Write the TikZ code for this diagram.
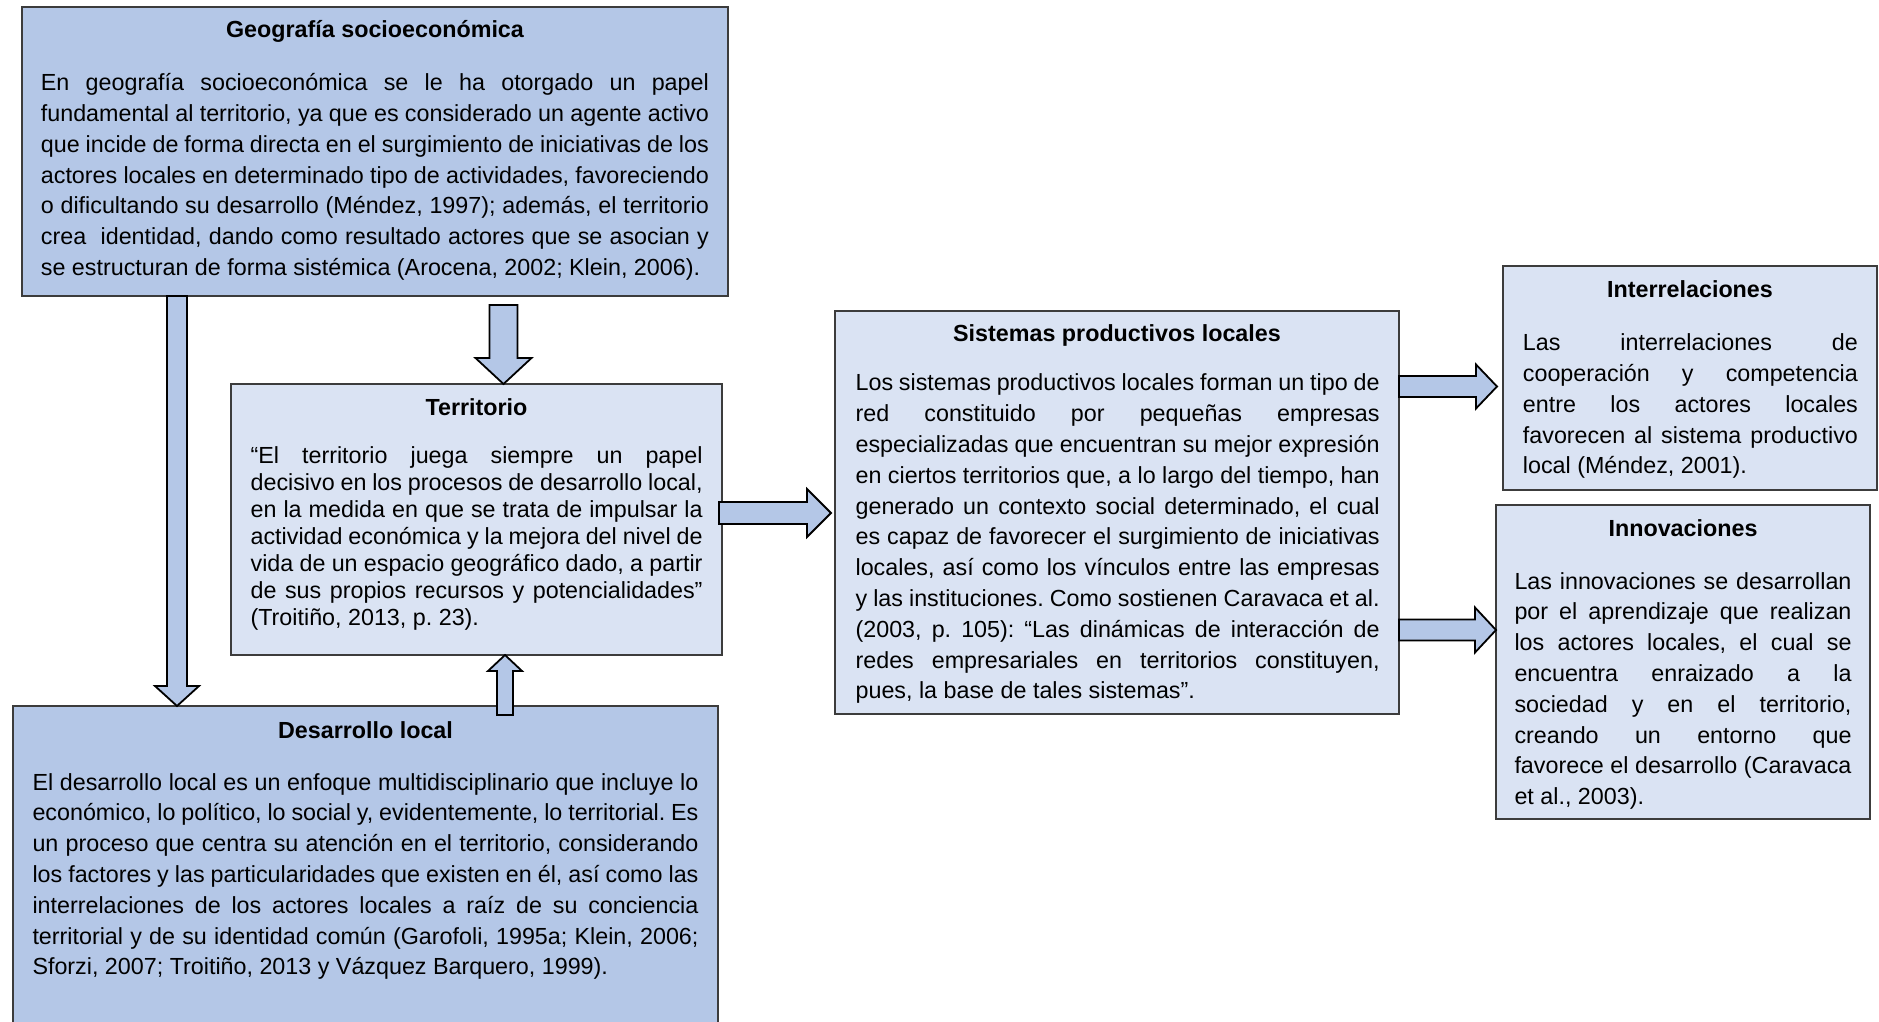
\documentclass[tikz,border=0pt]{standalone}
\usepackage{fontspec}
\setmainfont{Liberation Sans}
\usetikzlibrary{calc}
\definecolor{darkfill}{RGB}{180,199,231}
\definecolor{lightfill}{RGB}{218,227,243}
\definecolor{bordc}{RGB}{60,60,60}
\frenchspacing
\newcommand\fixsp{\frenchspacing\spaceskip=0pt\relax\xspaceskip=0pt\relax\parindent=0pt\relax}
\newcommand\jl[1]{\makebox[\hsize][s]{\fixsp #1}\\}
\newcommand\blkarrow[5]{%
  \path (#1) coordinate (bs) (#2) coordinate (be);
  \path ($(be)!#5!(bs)$) coordinate (bh);
  \draw[blk] ($(bs)!#3!90:(be)$) -- ($(bh)!#3!-90:(bs)$) -- ($(bh)!#4!-90:(bs)$) -- (be)
    -- ($(bh)!#4!90:(bs)$) -- ($(bh)!#3!90:(bs)$) -- ($(bs)!#3!-90:(be)$) -- cycle;
}
\tikzset{
  box/.style={draw=bordc, line width=1.4pt, inner sep=0pt, outer sep=0pt, anchor=north west},
  dbox/.style={box, fill=darkfill},
  lbox/.style={box, fill=lightfill},
  title/.style={anchor=base, inner sep=0pt, font=\fontsize{23.3pt}{28pt}\selectfont\bfseries},
  body/.style={anchor=north west, inner sep=0pt, font=\fontsize{23.3pt}{30.8pt}\selectfont},
  tbody/.style={anchor=north west, inner sep=0pt, font=\fontsize{23.3pt}{27pt}\selectfont},
  blk/.style={draw=black, line width=1.8pt, fill=darkfill, line join=miter}
}
\begin{document}
\begin{tikzpicture}[x=1pt,y=-1pt]
\useasboundingbox (0,0) rectangle (1879,1021);
\fill[white] (0,0) rectangle (1879,1021);
\clip (0,0) rectangle (1879,1021);

% boxes
\node[dbox, minimum width=706pt, minimum height=289pt] (geo) at (22,7) {};
\node[lbox, minimum width=491pt, minimum height=271pt] (terr) at (231,384) {};
\node[dbox, minimum width=705pt, minimum height=340pt] (des) at (13,706) {};
\node[lbox, minimum width=564pt, minimum height=403pt] (spl) at (835,311) {};
\node[lbox, minimum width=374pt, minimum height=224pt] (inter) at (1503,266) {};
\node[lbox, minimum width=374pt, minimum height=314pt] (innov) at (1496,505) {};

% titles
\node[title] (geoh) at ($(geo.north)+(0,30.5)$) {Geografía socioeconómica};
\node[title] (terrh) at ($(terr.north)+(0,31)$) {Territorio};
\node[title] (desh) at ($(des.north)+(0,32)$) {Desarrollo local};
\node[title] (splh) at ($(spl.north)+(0,30.7)$) {Sistemas productivos locales};
\node[title] (interh) at ($(inter.north)+(0,31.5)$) {Interrelaciones};
\node[title] (innovh) at ($(innov.north)+(0,31)$) {Innovaciones};

% bodies
\node[body, text width=668pt] (geob) at ($(geo.north west)+(18.7,61.9)$) {\fixsp
\jl{\strut En geografía socioeconómica se le ha otorgado un papel}
\jl{fundamental al territorio, ya que es considerado un agente activo}
\jl{que incide de forma directa en el surgimiento de iniciativas de los}
\jl{actores locales en determinado tipo de actividades, favoreciendo}
\jl{o dificultando su desarrollo (Méndez, 1997); además, el territorio}
\jl{crea\ \ identidad, dando como resultado actores que se asocian y}
se estructuran de forma sistémica (Arocena, 2002; Klein, 2006).};

\node[tbody, text width=452pt] (terrb) at ($(terr.north west)+(19.4,60.4)$) {\fixsp
\jl{\strut “El territorio juega siempre un papel}
\jl{decisivo en los procesos de desarrollo local,}
\jl{en la medida en que se trata de impulsar la}
\jl{actividad económica y la mejora del nivel de}
\jl{vida de un espacio geográfico dado, a partir}
\jl{de sus propios recursos y potencialidades”}
(Troitiño, 2013, p. 23).};

\node[body, text width=666pt] (desb) at ($(des.north west)+(19.3,62.4)$) {\fixsp
\jl{\strut El desarrollo local es un enfoque multidisciplinario que incluye lo}
\jl{económico, lo político, lo social y, evidentemente, lo territorial. Es}
\jl{un proceso que centra su atención en el territorio, considerando}
\jl{los factores y las particularidades que existen en él, así como las}
\jl{interrelaciones de los actores locales a raíz de su conciencia}
\jl{territorial y de su identidad común (Garofoli, 1995a; Klein, 2006;}
Sforzi, 2007; Troitiño, 2013 y Vázquez Barquero, 1999).};

\node[body, text width=524pt] (splb) at ($(spl.north west)+(20.4,58.1)$) {\fixsp
\jl{\strut Los sistemas productivos locales forman un tipo de}
\jl{red constituido por pequeñas empresas}
\jl{especializadas que encuentran su mejor expresión}
\jl{en ciertos territorios que, a lo largo del tiempo, han}
\jl{generado un contexto social determinado, el cual}
\jl{es capaz de favorecer el surgimiento de iniciativas}
\jl{locales, así como los vínculos entre las empresas}
\jl{y las instituciones. Como sostienen Caravaca et al.}
\jl{(2003, p. 105): “Las dinámicas de interacción de}
\jl{redes empresariales en territorios constituyen,}
pues, la base de tales sistemas”.};

\node[body, text width=335pt] (interb) at ($(inter.north west)+(19.7,62.9)$) {\fixsp
\jl{\strut Las interrelaciones de}
\jl{cooperación y competencia}
\jl{entre los actores locales}
\jl{favorecen al sistema productivo}
local (Méndez, 2001).};

\node[body, text width=337pt] (innovb) at ($(innov.north west)+(18.3,62.4)$) {\fixsp
\jl{\strut Las innovaciones se desarrollan}
\jl{por el aprendizaje que realizan}
\jl{los actores locales, el cual se}
\jl{encuentra enraizado a la}
\jl{sociedad y en el territorio,}
\jl{creando un entorno que}
\jl{favorece el desarrollo (Caravaca}
et al., 2003).};

% connectors (block arrows)
\coordinate (a1s) at ($(geo.south west)+(155,0)$);
\blkarrow{a1s}{a1s |- des.north}{10pt}{22pt}{20pt}
\coordinate (a2s) at ($(geo.south west)+(481.5,9)$);
\blkarrow{a2s}{a2s |- terr.north}{14pt}{28pt}{26pt}
\coordinate (a3s) at ($(des.north west)+(492,9)$);
\blkarrow{a3s}{a3s |- terr.south}{8pt}{17pt}{16pt}
\coordinate (a4s) at ($(terr.north east)+(-3,129)$);
\coordinate (a4e) at ($(a4s -| spl.west)+(-4,0)$);
\blkarrow{a4s}{a4e}{11pt}{24pt}{24pt}
\coordinate (a5s) at ($(spl.north east)+(0,75.5)$);
\coordinate (a5e) at ($(a5s -| inter.west)+(-6,0)$);
\blkarrow{a5s}{a5e}{10.5pt}{22pt}{21pt}
\coordinate (a6s) at ($(spl.north east)+(0,319)$);
\blkarrow{a6s}{a6s -| innov.west}{10.5pt}{22.5pt}{21pt}
\end{tikzpicture}
\end{document}
